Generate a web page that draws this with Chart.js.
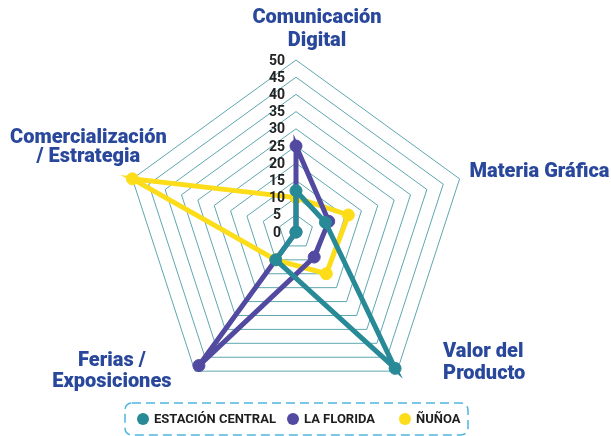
<!DOCTYPE html>
<html>
<head>
<meta charset="utf-8">
<script src="https://cdn.jsdelivr.net/npm/chart.js@4.4.1/dist/chart.umd.min.js"></script>
<style>
  html, body { margin: 0; padding: 0; background: #fff; }
  #wrap { position: relative; width: 611px; height: 436px; }
</style>
</head>
<body>
<div id="wrap"><canvas id="radar"></canvas></div>
<script>
// categories (one per axis, already split into lines)
const categories = [
    ["Comunicación", "Digital"],
    ["Materia Gráfica"],
    ["Valor del", "Producto"],
    ["Ferias /", "Exposiciones"],
    ["Comercialización", "/ Estrategia"],
];

const seriesNames = ["ESTACIÓN CENTRAL", "LA FLORIDA", "ÑUÑOA"];
const estacionCentral = [12, 9, 49, 10, 0];
const laFlorida = [25, 10, 9, 48, 0];
const nunoa = [10, 16, 15, 10, 50];

const tickLabels = ["0", "5", "10", "15", "20", "25", "30", "35", "40", "45", "50"];

const seriesColors = ["#288a96", "#524aa0", "#fddc19"];
const labelBlue = "#29489c";
const gridColor = "rgba(40, 138, 150, 0.75)";

// where each axis title sits, relative to the outer vertex of its axis
const labelPlacement = [
    { dx: 21, dy: -37, align: "center", step: 23 },
    { dx: 10, dy: -2, align: "left", step: 22 },
    { dx: 46, dy: -14, align: "left", step: 22 },
    { dx: -83, dy: -5, align: "center", step: 21 },
    { dx: -44, dy: -36, align: "center", step: 19 },
];

// legend: circle centres and box
const legendX = [143, 293, 405];
const legendY = 419;
const legendBox = { x: 125, y: 403, w: 343, h: 32, r: 7 };

const radarText = {
    id: "radarText",
    afterDatasetsDraw(chart) {
        const scale = chart.scales.r;
        const ctx = chart.ctx;
        ctx.save();

        // tick labels, sitting left of the vertical axis
        ctx.font = "bold 14px Roboto";
        ctx.fillStyle = "#222";
        ctx.textAlign = "center";
        ctx.textBaseline = "middle";
        tickLabels.forEach((t) => {
            const d = scale.getDistanceFromCenterForValue(Number(t));
            ctx.fillText(t, scale.xCenter - 19, scale.yCenter - d + 1);
        });

        // axis titles
        ctx.font = "900 20px Roboto";
        ctx.fillStyle = labelBlue;
        ctx.textBaseline = "alphabetic";
        categories.forEach((lines, i) => {
            const p = scale.getPointPosition(i, scale.drawingArea);
            const pl = labelPlacement[i];
            ctx.textAlign = pl.align;
            lines.forEach((line, j) => {
                ctx.fillText(line, p.x + pl.dx, p.y + pl.dy + j * pl.step);
            });
        });
        ctx.restore();
    },
    afterDraw(chart) {
        const ctx = chart.ctx;
        ctx.save();
        ctx.strokeStyle = "#4db6e2";
        ctx.lineWidth = 1.5;
        ctx.setLineDash([9, 5]);
        ctx.beginPath();
        ctx.roundRect(legendBox.x, legendBox.y, legendBox.w, legendBox.h, legendBox.r);
        ctx.stroke();
        ctx.setLineDash([]);

        ctx.font = "bold 13px Roboto";
        ctx.textAlign = "left";
        ctx.textBaseline = "middle";
        chart.data.datasets.forEach((ds, i) => {
            ctx.fillStyle = ds.borderColor;
            ctx.beginPath();
            ctx.arc(legendX[i], legendY, 6, 0, Math.PI * 2);
            ctx.fill();
            ctx.fillStyle = "#1e1e1e";
            ctx.fillText(ds.label, legendX[i] + 11, legendY + 1);
        });
        ctx.restore();
    },
};

const makeSet = (label, data, color) => ({
    label: label,
    data: data,
    borderColor: color,
    backgroundColor: color,
    pointBackgroundColor: color,
    pointBorderColor: color,
    borderWidth: 5,
    pointRadius: 6,
    pointBorderWidth: 1,
    fill: false,
    tension: 0,
});

new Chart(document.getElementById("radar"), {
    type: "radar",
    data: {
        labels: categories,
        datasets: [
            makeSet(seriesNames[0], estacionCentral, seriesColors[0]),
            makeSet(seriesNames[1], laFlorida, seriesColors[1]),
            makeSet(seriesNames[2], nunoa, seriesColors[2]),
        ],
    },
    options: {
        responsive: true,
        maintainAspectRatio: false,
        animation: false,
        layout: { padding: { left: 124, right: 143, top: 60, bottom: 32 } },
        plugins: {
            legend: { display: false },
            tooltip: { enabled: false },
        },
        scales: {
            r: {
                min: 0,
                max: 50,
                ticks: { stepSize: 5, display: false },
                grid: { color: gridColor, lineWidth: 1 },
                angleLines: { display: false },
                pointLabels: { display: false },
            },
        },
    },
    plugins: [radarText],
});
</script>
</body>
</html>
